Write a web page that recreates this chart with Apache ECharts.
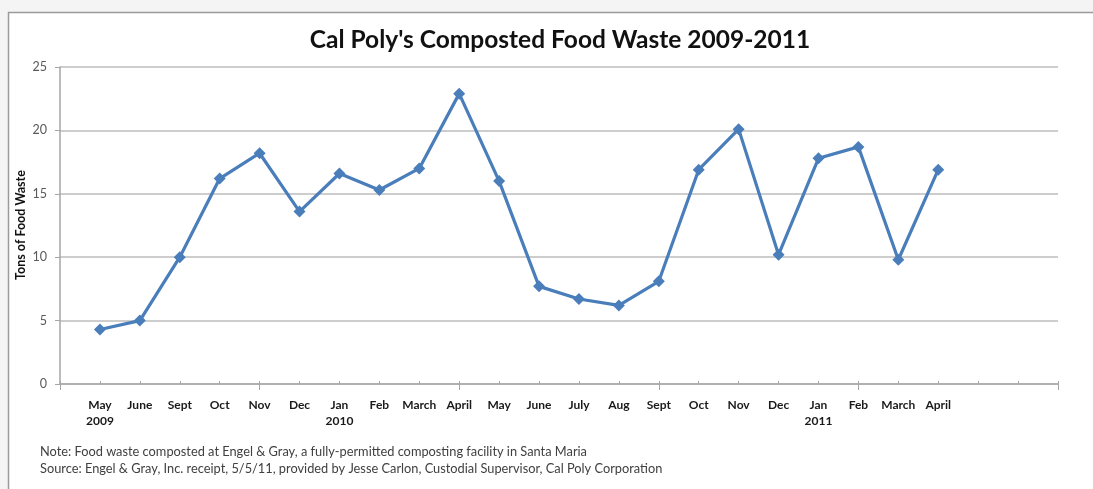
<!DOCTYPE html>
<html>
<head>
<meta charset="utf-8">
<script src="https://cdn.jsdelivr.net/npm/echarts@6/dist/echarts.min.js"></script>
<style>
html,body{margin:0;padding:0;background:#f4f4f4;}
#chart{width:1093px;height:489px;}
</style>
</head>
<body>
<div id="chart"></div>
<script>
// Category labels (blank slots pad the axis as in the original Excel chart)
const categories = ["", "May\n2009", "June", "Sept", "Oct", "Nov", "Dec", "Jan\n2010", "Feb", "March", "April",
  "May", "June", "July", "Aug", "Sept", "Oct", "Nov", "Dec", "Jan\n2011", "Feb", "March", "April", "", "", ""];
// Tons of food waste per month
const tons = [null, 4.3, 5.0, 10.0, 16.2, 18.2, 13.6, 16.6, 15.3, 17.0, 22.9,
  16.0, 7.7, 6.7, 6.2, 8.1, 16.9, 20.1, 10.2, 17.8, 18.7, 9.8, 16.9, null, null, null];
const yTicks = [0, 5, 10, 15, 20, 25];
const titleText = "Cal Poly's Composted Food Waste 2009-2011";
const yName = "Tons of Food Waste";
const noteLines = [
  "Note: Food waste composted at Engel & Gray, a fully-permitted composting facility in Santa Maria",
  "Source: Engel & Gray, Inc. receipt, 5/5/11, provided by Jesse Carlon, Custodial Supervisor, Cal Poly Corporation"
];

const chart = echarts.init(document.getElementById('chart'), null, {renderer: 'canvas'});
const axisGray = '#a6a6a6';
chart.setOption({
  backgroundColor: '#f4f4f4',
  animation: false,
  graphic: [
    {type: 'rect', z: -10, shape: {x: 8.5, y: 12.5, width: 1100, height: 500},
     style: {fill: '#ffffff', stroke: '#9a9a9a', lineWidth: 1.5}},
    {type: 'text', left: 40, top: 443, z: 5,
     style: {text: noteLines.join('\n'), fill: '#404040', font: '12.8px Lato', lineHeight: 17}},
    {type: 'text', x: 21, y: 225, rotation: Math.PI / 2, z: 5,
     style: {text: yName, fill: '#111', font: 'bold 12.5px Lato', align: 'center', verticalAlign: 'middle'}}
  ],
  title: {
    text: titleText, left: 555, textAlign: 'center', top: 23,
    textStyle: {fontFamily: 'Lato', fontWeight: 'bold', fontSize: 24.5, color: '#111'}
  },
  grid: {left: 60, right: 35, top: 67, bottom: 105, containLabel: false},
  xAxis: [{
    type: 'category', data: categories, boundaryGap: false,
    axisLine: {lineStyle: {color: axisGray, width: 1.5}},
    axisTick: {inside: true, length: 3, interval: 0, lineStyle: {color: axisGray}},
    axisLabel: {interval: 0, margin: 13, fontFamily: 'Lato', fontWeight: 'bold', fontSize: 12, color: '#1a1a1a', lineHeight: 16, verticalAlign: 'top'},
    splitLine: {show: false}
  }, {
    type: 'category', data: categories, boundaryGap: false, position: 'bottom',
    axisLine: {show: false},
    axisTick: {length: 6, interval: 4, lineStyle: {color: axisGray}},
    axisLabel: {show: false}
  }],
  yAxis: {
    type: 'value', min: 0, max: 25, interval: 5,
    axisLine: {show: true, lineStyle: {color: axisGray, width: 1.5}},
    axisTick: {show: true, length: 5, lineStyle: {color: axisGray}},
    axisLabel: {margin: 13, fontFamily: 'Lato', fontSize: 12.5, color: '#595959',
      formatter: v => yTicks.includes(v) ? String(v) : ''},
    splitLine: {lineStyle: {color: '#bdbdbd', width: 1.5}}
  },
  series: [{
    type: 'line', data: tons, xAxisIndex: 0,
    symbol: 'diamond', symbolSize: 12, showSymbol: true,
    lineStyle: {color: '#4a7ebb', width: 3.2},
    itemStyle: {color: '#4a7ebb'},
    connectNulls: false
  }]
});
</script>
</body>
</html>
